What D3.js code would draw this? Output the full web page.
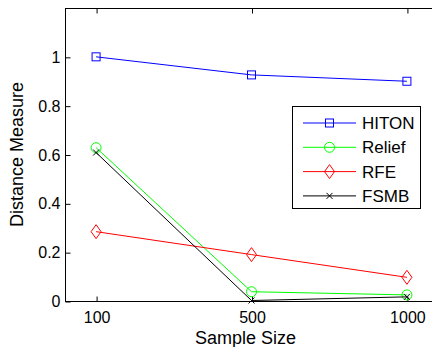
<!DOCTYPE html>
<html><head><meta charset="utf-8">
<script src="https://cdn.jsdelivr.net/npm/d3@7"></script>
<style>body{margin:0;background:#fff}svg{display:block;font-family:"Liberation Sans",Arial,sans-serif}</style>
</head><body><svg id="c" width="432" height="347"></svg>
<script>
const categories = ["100", "500", "1000"];
const seriesNames = ["HITON", "Relief", "RFE", "FSMB"];
const hiton  = [1.0, 0.926, 0.900];
const relief = [0.628, 0.038, 0.025];
const rfe    = [0.284, 0.190, 0.097];
const fsmb   = [0.608, 0.002, 0.017];
const yTicks = [0, 0.2, 0.4, 0.6, 0.8, 1];

const series = [
  {name: seriesNames[0], values: hiton,  color: "#0000ff", marker: "square"},
  {name: seriesNames[1], values: relief, color: "#00ff00", marker: "circle"},
  {name: seriesNames[2], values: rfe,    color: "#ff0000", marker: "diamond"},
  {name: seriesNames[3], values: fsmb,   color: "#000000", marker: "x"}
];

const svg = d3.select("#c");
const L = 65, R = 438, T = 8, B = 301;
const x = d3.scaleLinear().domain([-0.2, categories.length - 1 + 0.2]).range([L, R]);
const y = d3.scaleLinear().domain([0, 1.2]).range([B, T]);

// frame
svg.append("rect").attr("x", L + 0.5).attr("y", T + 0.5).attr("width", R - L).attr("height", B - T)
  .attr("fill", "none").attr("stroke", "#000").attr("stroke-width", 1);

// y axis
const ya = svg.append("g").attr("transform", `translate(${L + 0.5},0.5)`)
  .call(d3.axisLeft(y).tickValues(yTicks).tickSize(-5).tickPadding(5).tickFormat(d => d3.format("")(d)));
ya.select(".domain").remove();
ya.selectAll("text").attr("font-size", 16).attr("fill", "#000").attr("font-family", "Liberation Sans, Arial, sans-serif");
ya.selectAll("line").attr("stroke", "#000");
// right ticks
const yr = svg.append("g").attr("transform", `translate(${R + 0.5},0.5)`)
  .call(d3.axisRight(y).tickValues(yTicks).tickSize(-5).tickFormat(""));
yr.select(".domain").remove();

// x axis
const xa = svg.append("g").attr("transform", `translate(0.5,${B + 0.5})`)
  .call(d3.axisBottom(x).tickValues(d3.range(categories.length)).tickSize(-5).tickPadding(10).tickFormat(i => categories[i]));
xa.select(".domain").remove();
xa.selectAll("text").attr("font-size", 16).attr("fill", "#000").attr("font-family", "Liberation Sans, Arial, sans-serif");
const xt = svg.append("g").attr("transform", `translate(0.5,${T + 0.5})`)
  .call(d3.axisTop(x).tickValues(d3.range(categories.length)).tickSize(-5).tickFormat(""));
xt.select(".domain").remove();

// axis labels
svg.append("text").attr("x", (L + R) / 2 - 6).attr("y", 344).attr("text-anchor", "middle")
  .attr("font-size", 18).text("Sample Size");
svg.append("text").attr("transform", `translate(23,${(T + B) / 2}) rotate(-90)`).attr("text-anchor", "middle")
  .attr("font-size", 18).text("Distance Measure");

function drawMarker(g, type, cx, cy, color) {
  if (type === "square") {
    g.append("rect").attr("x", cx - 4).attr("y", cy - 4).attr("width", 8).attr("height", 8)
      .attr("fill", "none").attr("stroke", color);
  } else if (type === "circle") {
    g.append("circle").attr("cx", cx).attr("cy", cy).attr("r", 5).attr("fill", "none").attr("stroke", color);
  } else if (type === "diamond") {
    g.append("path").attr("d", `M${cx},${cy - 7}L${cx + 5},${cy}L${cx},${cy + 7}L${cx - 5},${cy}Z`)
      .attr("fill", "none").attr("stroke", color);
  } else {
    g.append("path").attr("d", `M${cx - 3},${cy - 3}L${cx + 3},${cy + 3}M${cx - 3},${cy + 3}L${cx + 3},${cy - 3}`)
      .attr("fill", "none").attr("stroke", color);
  }
}

const line = d3.line().x((d, i) => x(i)).y(d => y(d));
series.forEach(s => {
  const g = svg.append("g");
  g.append("path").datum(s.values).attr("d", line).attr("fill", "none").attr("stroke", s.color).attr("stroke-width", 1);
  s.values.forEach((v, i) => drawMarker(g, s.marker, x(i), y(v), s.color));
});

// legend
const lg = svg.append("g");
lg.append("rect").attr("x", 292.5).attr("y", 106.5).attr("width", 128).attr("height", 102)
  .attr("fill", "#fff").attr("stroke", "#000");
series.forEach((s, i) => {
  const cy = 123 + i * 24.3;
  lg.append("line").attr("x1", 303).attr("x2", 356).attr("y1", cy).attr("y2", cy).attr("stroke", s.color);
  drawMarker(lg, s.marker, 329.5, cy, s.color);
  lg.append("text").attr("x", 362).attr("y", cy + 6).attr("font-size", 17).text(s.name);
});
</script></body></html>
